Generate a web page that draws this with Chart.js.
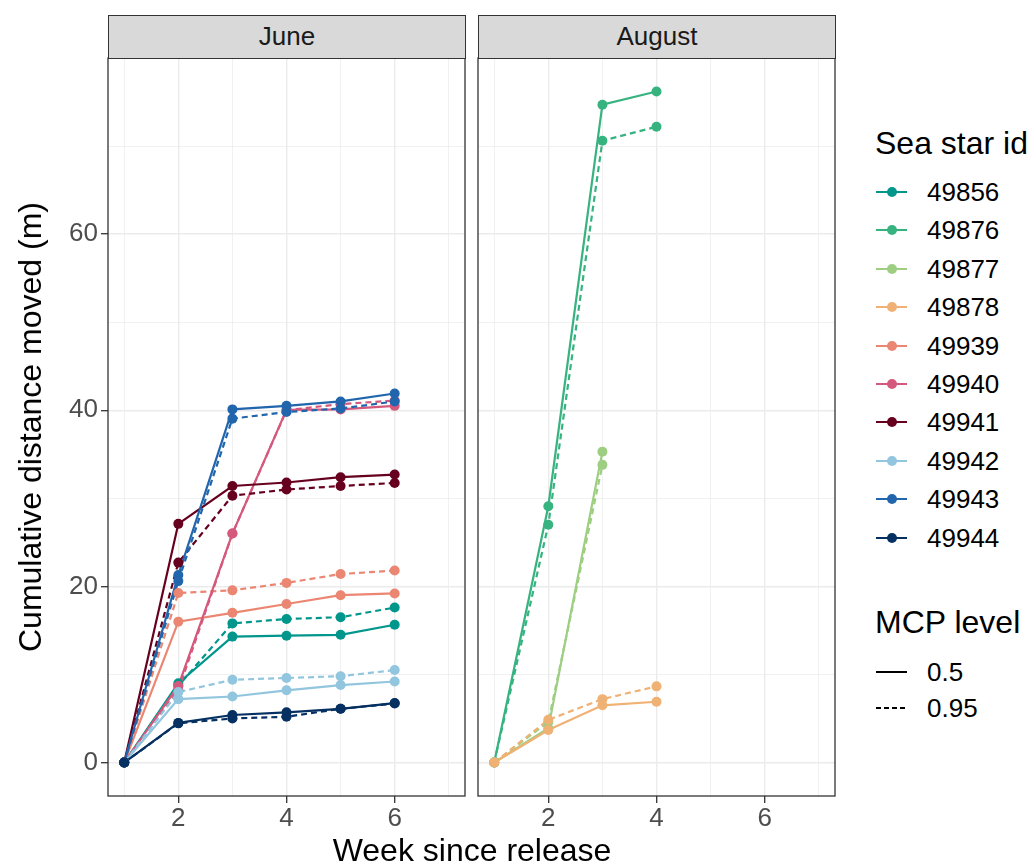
<!DOCTYPE html>
<html>
<head>
<meta charset="utf-8">
<script src="https://cdn.jsdelivr.net/npm/chart.js@4.4.1/dist/chart.umd.min.js"></script>
<style>
  body { margin:0; background:#fff; font-family:"Liberation Sans", Arial, sans-serif; }
  #wrap { position:relative; width:1035px; height:864px; overflow:hidden; background:#fff; }
  canvas { position:absolute; }
  .strip { position:absolute; top:15px; height:44px; background:#D9D9D9; border:1.3px solid #333;
           box-sizing:border-box; color:#1A1A1A; font-size:26px; line-height:41px; text-align:center; }
  .txt { position:absolute; white-space:nowrap; line-height:1; color:#000; }
</style>
</head>
<body>
<div id="wrap">
  <canvas id="juneChart" width="470" height="800" style="left:0;top:50px"></canvas>
  <canvas id="augChart" width="370" height="800" style="left:470px;top:50px"></canvas>
  <div class="strip" style="left:108px;width:358px">June</div>
  <div class="strip" style="left:478px;width:358px">August</div>
  <div class="txt" style="left:30px;top:427px;font-size:32px;transform:translate(-50%,-50%) rotate(-90deg)">Cumulative distance moved (m)</div>
  <div class="txt" style="left:472px;top:834px;font-size:32px;transform:translateX(-50%)">Week since release</div>
  <div id="legend"></div>
</div>

<script>
/* ---------- data ---------- */
const juneWeeks = [1, 2, 3, 4, 5, 6];
const augWeeks  = [1, 2, 3, 4];

const starIds    = ['49856','49876','49877','49878','49939','49940','49941','49942','49943','49944'];
const starColors = ['#01968C','#37B380','#9DCE82','#F0B174','#EB8672','#D5587D','#67001F','#92C5DE','#2166AC','#053061'];
const mcpLevels  = ['0.5', '0.95'];

const xTicks = [1, 2, 3, 4, 5, 6, 7];
const yTicks = [0, 10, 20, 30, 40, 50, 60, 70];

// June, MCP 0.5 / 0.95
const jun49856_50 = [0, 9.0, 14.3, 14.4, 14.5, 15.65];
const jun49856_95 = [0, 8.7, 15.8, 16.3, 16.5, 17.6];
const jun49939_50 = [0, 16.0, 17.0, 18.0, 19.0, 19.2];
const jun49939_95 = [0, 19.25, 19.55, 20.4, 21.4, 21.8];
const jun49940_50 = [0, 8.7, 26.0, 40.05, 40.1, 40.5];
const jun49940_95 = [0, 8.2, 26.0, 40.0, 40.7, 41.1];
const jun49941_50 = [0, 27.1, 31.4, 31.8, 32.4, 32.7];
const jun49941_95 = [0, 22.7, 30.3, 31.0, 31.4, 31.75];
const jun49942_50 = [0, 7.2, 7.5, 8.2, 8.8, 9.2];
const jun49942_95 = [0, 8.0, 9.4, 9.6, 9.8, 10.5];
const jun49943_50 = [0, 21.3, 40.1, 40.5, 41.0, 41.9];
const jun49943_95 = [0, 20.6, 39.05, 39.8, 40.2, 41.0];
const jun49944_50 = [0, 4.5, 5.4, 5.7, 6.1, 6.75];
const jun49944_95 = [0, 4.45, 5.0, 5.2, 6.1, 6.7];

// August, MCP 0.5 / 0.95
const aug49876_50 = [0, 29.1, 74.7, 76.2];
const aug49876_95 = [0, 27.0, 70.6, 72.2];
const aug49877_50 = [0, 3.9, 35.3];
const aug49877_95 = [0, 4.6, 33.8];
const aug49878_50 = [0, 3.7, 6.5, 6.9];
const aug49878_95 = [0, 4.85, 7.2, 8.65];

const juneSeries = [
  ['49856','0.5',jun49856_50], ['49856','0.95',jun49856_95],
  ['49939','0.5',jun49939_50], ['49939','0.95',jun49939_95],
  ['49940','0.5',jun49940_50], ['49940','0.95',jun49940_95],
  ['49941','0.5',jun49941_50], ['49941','0.95',jun49941_95],
  ['49942','0.5',jun49942_50], ['49942','0.95',jun49942_95],
  ['49943','0.5',jun49943_50], ['49943','0.95',jun49943_95],
  ['49944','0.5',jun49944_50], ['49944','0.95',jun49944_95]
];
const augSeries = [
  ['49876','0.5',aug49876_50], ['49876','0.95',aug49876_95],
  ['49877','0.5',aug49877_50], ['49877','0.95',aug49877_95],
  ['49878','0.5',aug49878_50], ['49878','0.95',aug49878_95]
];

/* ---------- styling ---------- */
const LINE_W = 2.2;
const DASH   = [6, 4];
const PT_R   = 5;
const GRID   = '#EBEBEB';
const TICK_FONT = { family:'Liberation Sans', size:26 };

const panelBorder = {
  id:'panelBorder',
  afterDraw(chart) {
    const { ctx, chartArea:a } = chart;
    ctx.save();
    ctx.strokeStyle = '#333333';
    ctx.lineWidth = 1.3;
    ctx.strokeRect(a.left, a.top, a.right - a.left, a.bottom - a.top);
    ctx.restore();
  }
};

function colorOf(id) { return starColors[starIds.indexOf(id)]; }

// ggplot draws every line first, then every point; later groups on top
function buildDatasets(series, weeks) {
  const lines = [], points = [];
  series.forEach(([id, lvl, vals], k) => {
    const data = vals.map((v, i) => ({ x: weeks[i], y: v }));
    const col  = colorOf(id);
    lines.push({
      data, borderColor: col, borderWidth: LINE_W, borderDash: lvl === '0.95' ? DASH : [],
      pointRadius: 0, fill: false, tension: 0, order: 200 - k
    });
    points.push({
      data, showLine: false, pointRadius: PT_R, pointBackgroundColor: col,
      pointBorderWidth: 0, order: 100 - k
    });
  });
  return lines.concat(points);
}

function makeChart(canvasId, series, weeks, showY, yWidth) {
  return new Chart(document.getElementById(canvasId), {
    type: 'line',
    data: { datasets: buildDatasets(series, weeks) },
    plugins: [panelBorder],
    options: {
      responsive: false, animation: false, devicePixelRatio: 1,
      layout: { padding: { top: 8, right: 5, bottom: 4, left: 0 } },
      plugins: { legend: { display: false }, tooltip: { enabled: false } },
      scales: {
        x: {
          type: 'linear', min: 0.7, max: 7.3,
          afterBuildTicks: s => { s.ticks = xTicks.map(v => ({ value: v })); },
          afterFit: s => { s.height = 50; s.paddingLeft = 0; s.paddingRight = 0; },
          border: { display: false },
          grid: {
            color: GRID,
            lineWidth: c => (c.tick && c.tick.value % 2 === 0 ? 1.4 : 0.7),
            tickColor: c => (c.tick && c.tick.value % 2 === 0 ? '#333333' : 'rgba(0,0,0,0)'),
            tickLength: 7, tickWidth: 1.3
          },
          ticks: {
            autoSkip: false, maxRotation: 0, padding: 0,
            color: '#4D4D4D', font: TICK_FONT,
            callback: v => (v % 2 === 0 ? String(v) : '')
          }
        },
        y: {
          type: 'linear', min: -3.8, max: 80,
          afterBuildTicks: s => { s.ticks = yTicks.map(v => ({ value: v })); },
          afterFit: s => { s.width = yWidth; s.paddingTop = 0; s.paddingBottom = 0; },
          border: { display: false },
          grid: {
            color: GRID,
            lineWidth: c => (c.tick && c.tick.value % 20 === 0 ? 1.4 : 0.7),
            tickColor: c => (showY && c.tick && c.tick.value % 20 === 0 ? '#333333' : 'rgba(0,0,0,0)'),
            drawTicks: showY, tickLength: 7, tickWidth: 1.3
          },
          ticks: {
            display: showY, autoSkip: false, padding: 3,
            color: '#4D4D4D', font: TICK_FONT,
            callback: v => (v % 20 === 0 ? String(v) : '')
          }
        }
      }
    }
  });
}

makeChart('juneChart', juneSeries, juneWeeks, true, 108);
makeChart('augChart', augSeries, augWeeks, false, 8);

/* ---------- legend ---------- */
const legend = document.getElementById('legend');
function addText(txt, left, top, size) {
  const d = document.createElement('div');
  d.className = 'txt';
  d.style.cssText = `left:${left}px;top:${top}px;font-size:${size}px`;
  d.textContent = txt;
  legend.appendChild(d);
}
function addBox(css) {
  const d = document.createElement('div');
  d.style.cssText = 'position:absolute;' + css;
  legend.appendChild(d);
}

addText('Sea star id', 875, 127, 32);
starIds.forEach((id, i) => {
  const cy = 192 + i * 38.4;
  addBox(`left:876px;top:${cy - 1.1}px;width:31px;height:2.2px;background:${starColors[i]}`);
  addBox(`left:887px;top:${cy - 5}px;width:10px;height:10px;border-radius:50%;background:${starColors[i]}`);
  addText(id, 927, cy - 13, 26);
});

addText('MCP level', 875, 606, 32);
mcpLevels.forEach((lvl, i) => {
  const cy = 672 + i * 36;
  const bg = lvl === '0.95'
    ? 'repeating-linear-gradient(90deg,#000 0 5px,transparent 5px 8px)'
    : '#000';
  addBox(`left:876px;top:${cy - 0.75}px;width:31px;height:1.5px;background:${bg}`);
  addText(lvl, 927, cy - 13, 26);
});
</script>
</body>
</html>
